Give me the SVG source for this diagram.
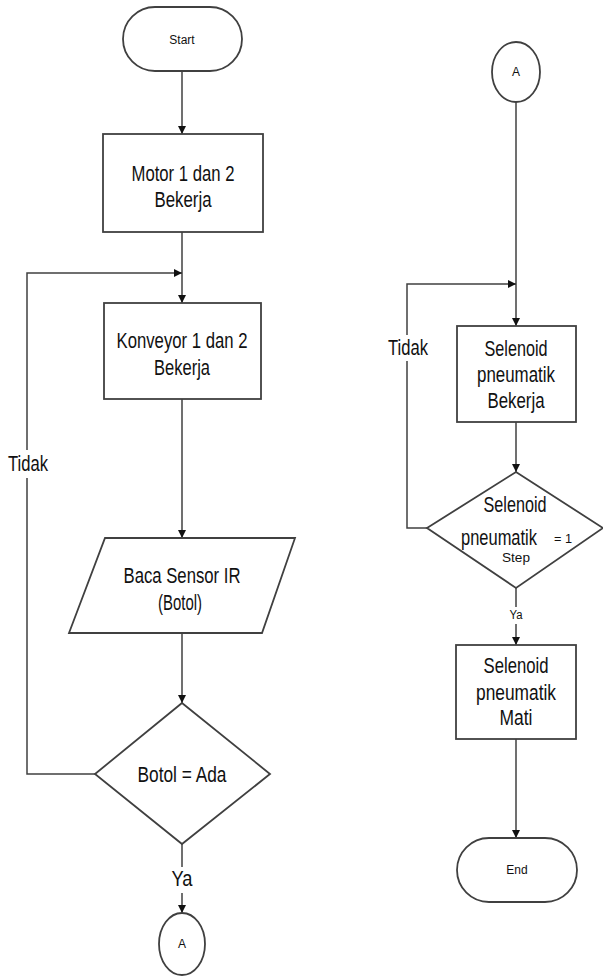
<svg xmlns="http://www.w3.org/2000/svg" width="603" height="978" viewBox="0 0 603 978">
<style>
.shape{fill:#fff;stroke:#404040;stroke-width:1.8}
.ln{fill:none;stroke:#404040;stroke-width:1.5}
.t{font-family:"Liberation Sans",Arial,sans-serif;font-size:21.5px;fill:#111;text-anchor:middle}
.s{font-family:"Liberation Sans",Arial,sans-serif;font-size:12px;fill:#111;text-anchor:middle}
</style>
<defs>
<marker id="ah" viewBox="0 0 10 10" refX="10" refY="5" markerWidth="8" markerHeight="8" markerUnits="userSpaceOnUse" orient="auto">
<path d="M0,0 L10,5 L0,10 z" fill="#111"/>
</marker>
</defs>
<rect width="603" height="978" fill="#fff"/>
<g id="connectors">
<path class="ln" d="M182 71 V134" marker-end="url(#ah)"/>
<path class="ln" d="M182 232 V303" marker-end="url(#ah)"/>
<path class="ln" d="M95 774 H27 V478"/>
<path class="ln" d="M27 450 V273 H182" marker-end="url(#ah)"/>
<path class="ln" d="M182 399 V538" marker-end="url(#ah)"/>
<path class="ln" d="M182 633 V703" marker-end="url(#ah)"/>
<path class="ln" d="M182 844 V867"/>
<path class="ln" d="M182 893 V913" marker-end="url(#ah)"/>
<path class="ln" d="M516 102 V326" marker-end="url(#ah)"/>
<path class="ln" d="M427 528 H407 V361"/>
<path class="ln" d="M407 335 V284 H516" marker-end="url(#ah)"/>
<path class="ln" d="M516 422 V472" marker-end="url(#ah)"/>
<path class="ln" d="M516 588 V607"/>
<path class="ln" d="M516 624 V645" marker-end="url(#ah)"/>
<path class="ln" d="M516 739 V838" marker-end="url(#ah)"/>
<text class="t" x="182" y="886" textLength="21" lengthAdjust="spacingAndGlyphs">Ya</text>
<text class="t" x="28" y="471" textLength="40" lengthAdjust="spacingAndGlyphs">Tidak</text>
<text class="t" x="408" y="355" textLength="40" lengthAdjust="spacingAndGlyphs">Tidak</text>
<text class="s" x="516" y="619" textLength="13" lengthAdjust="spacingAndGlyphs">Ya</text>
</g>
<g id="start">
<rect class="shape" x="123" y="7" width="119" height="64" rx="32" ry="32"/>
<text class="s" x="182" y="44">Start</text>
</g>
<g id="motor">
<rect class="shape" x="103" y="134" width="160" height="98"/>
<text class="t" x="183" y="181" textLength="103" lengthAdjust="spacingAndGlyphs">Motor 1 dan 2</text>
<text class="t" x="183" y="207" textLength="57" lengthAdjust="spacingAndGlyphs">Bekerja</text>
</g>
<g id="konveyor">
<rect class="shape" x="104" y="303" width="157" height="96"/>
<text class="t" x="182" y="348" textLength="131" lengthAdjust="spacingAndGlyphs">Konveyor 1 dan 2</text>
<text class="t" x="182" y="375" textLength="56" lengthAdjust="spacingAndGlyphs">Bekerja</text>
</g>
<g id="baca">
<polygon class="shape" points="105,538 295,538 262,633 69,633"/>
<text class="t" x="182" y="583" textLength="117" lengthAdjust="spacingAndGlyphs">Baca Sensor IR</text>
<text class="t" x="180" y="610" textLength="44" lengthAdjust="spacingAndGlyphs">(Botol)</text>
</g>
<g id="botol">
<polygon class="shape" points="182,703 270,774 182,844 95,774"/>
<text class="t" x="182" y="782" textLength="89" lengthAdjust="spacingAndGlyphs">Botol = Ada</text>
</g>
<g id="a-left">
<ellipse class="shape" cx="182" cy="944" rx="23" ry="31"/>
<text class="s" x="182" y="948">A</text>
</g>
<g id="a-right">
<ellipse class="shape" cx="516" cy="72" rx="24" ry="30"/>
<text class="s" x="516" y="76">A</text>
</g>
<g id="selenoid-bekerja">
<rect class="shape" x="457" y="326" width="119" height="96"/>
<text class="t" x="516" y="356" textLength="63" lengthAdjust="spacingAndGlyphs">Selenoid</text>
<text class="t" x="516" y="382" textLength="78" lengthAdjust="spacingAndGlyphs">pneumatik</text>
<text class="t" x="516" y="408" textLength="57" lengthAdjust="spacingAndGlyphs">Bekerja</text>
</g>
<g id="selenoid-step">
<polygon class="shape" points="516,472 603,528 516,588 427,528"/>
<text class="t" x="515" y="512" textLength="63" lengthAdjust="spacingAndGlyphs">Selenoid</text>
<text class="t" x="499" y="545" textLength="76" lengthAdjust="spacingAndGlyphs">pneumatik</text>
<text class="s" x="563" y="543" textLength="18" lengthAdjust="spacingAndGlyphs">= 1</text>
<text class="s" x="516" y="562" textLength="28" lengthAdjust="spacingAndGlyphs">Step</text>
</g>
<g id="selenoid-mati">
<rect class="shape" x="456" y="645" width="120" height="94"/>
<text class="t" x="516" y="673" textLength="65" lengthAdjust="spacingAndGlyphs">Selenoid</text>
<text class="t" x="516" y="700" textLength="80" lengthAdjust="spacingAndGlyphs">pneumatik</text>
<text class="t" x="516" y="725" textLength="33" lengthAdjust="spacingAndGlyphs">Mati</text>
</g>
<g id="end">
<rect class="shape" x="457" y="838" width="120" height="64" rx="32" ry="32"/>
<text class="s" x="517" y="874">End</text>
</g>
</svg>
